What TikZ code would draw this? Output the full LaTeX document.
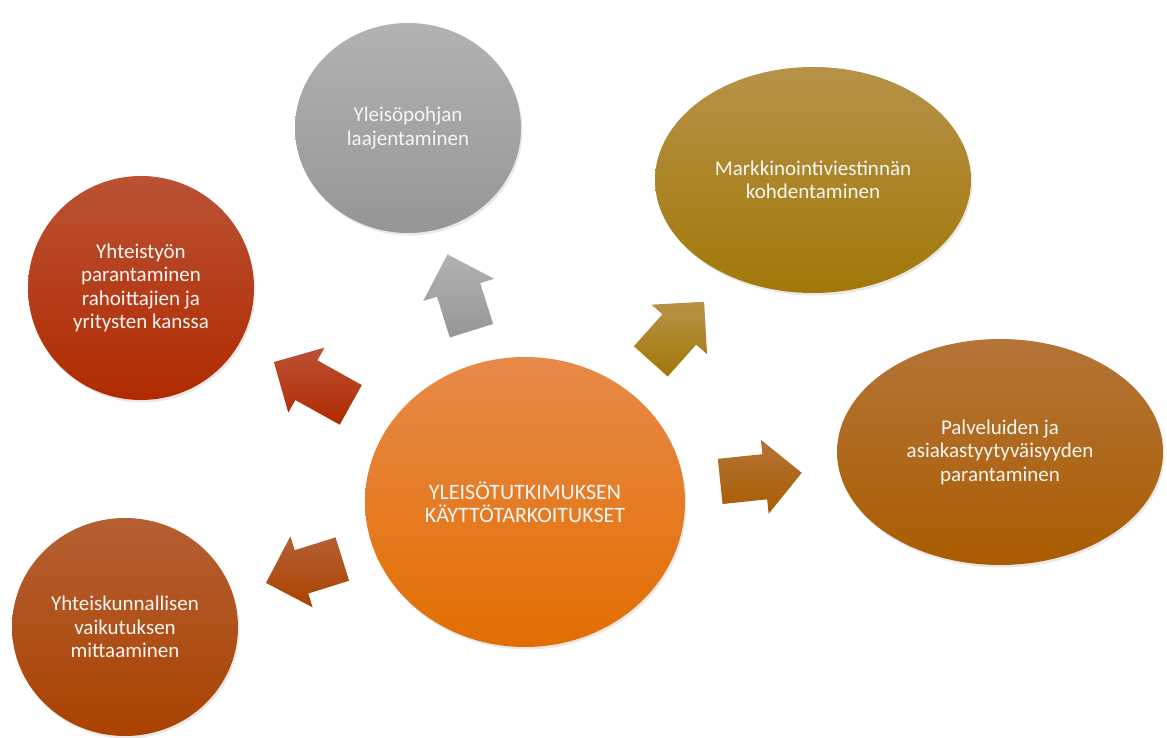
\documentclass[tikz,border=0pt]{standalone}
\usepackage{fontspec}
\setmainfont{Carlito}
\usetikzlibrary{shapes.geometric,shapes.arrows,shadows}

\definecolor{hubTop}{RGB}{232,138,74}
\definecolor{hubBot}{RGB}{226,110,0}
\definecolor{grayTop}{RGB}{178,178,178}
\definecolor{grayBot}{RGB}{150,150,150}
\definecolor{redTop}{RGB}{186,82,52}
\definecolor{redBot}{RGB}{176,42,0}
\definecolor{oliveTop}{RGB}{182,146,72}
\definecolor{oliveBot}{RGB}{162,120,8}
\definecolor{rustTop}{RGB}{180,116,56}
\definecolor{rustBot}{RGB}{170,92,0}
\definecolor{brickTop}{RGB}{180,96,52}
\definecolor{brickBot}{RGB}{170,66,0}
\definecolor{labeltext}{RGB}{246,246,246}

\begin{document}
\begin{tikzpicture}[x=1pt,y=1pt,
  bubble/.style={ellipse,inner sep=-45pt,align=center,text=labeltext,
    font=\fontsize{21}{23.5}\selectfont,
    drop shadow={opacity=0.18,shadow xshift=1.5pt,shadow yshift=-2.5pt}},
  blockarrow/.style={single arrow,inner xsep=0pt,inner ysep=22.5pt,
    single arrow head extend=14.5pt,sloped,allow upside down}]
  \useasboundingbox (0,0) rectangle (1167,738);

  % centre and the five uses
  \node [bubble,minimum width=320,minimum height=290,top color=hubTop,bottom color=hubBot,
         font=\fontsize{22}{23}\selectfont] (hub) at (525,236)
        {YLEISÖTUTKIMUKSEN\\KÄYTTÖTARKOITUKSET};
  \node [bubble,minimum width=226,minimum height=210,top color=grayTop,bottom color=grayBot]
        (gen) at (408,610) {Yleisöpohjan\\laajentaminen};
  \node [bubble,minimum width=226,minimum height=224,top color=redTop,bottom color=redBot]
        (coop) at (141,450) {Yhteistyön\\parantaminen\\rahoittajien ja\\yritysten kanssa};
  \node [bubble,minimum width=226,minimum height=218,top color=brickTop,bottom color=brickBot]
        (soc) at (125,111) {Yhteiskunnallisen\\vaikutuksen\\mittaaminen};
  \node [bubble,minimum width=316,minimum height=226,top color=oliveTop,bottom color=oliveBot]
        (mark) at (813,558) {Markkinointiviestinnän\\kohdentaminen};
  \node [bubble,minimum width=326,minimum height=226,top color=rustTop,bottom color=rustBot]
        (serv) at (1000,286) {Palveluiden ja\\asiakastyytyväisyyden\\parantaminen};

  % block arrows from the centre outwards
  \foreach \dest/\where/\col/\arrlen in
      {gen/0.531/gray/80, coop/0.528/red/88, mark/0.503/olive/80,
       serv/0.473/rust/82, soc/0.525/brick/80}
    \path (hub.center) -- node [blockarrow,pos=\where,minimum height=\arrlen,
          top color=\col Top,bottom color=\col Bot] (to\dest) {}
          (\dest.center);
\end{tikzpicture}
\end{document}
